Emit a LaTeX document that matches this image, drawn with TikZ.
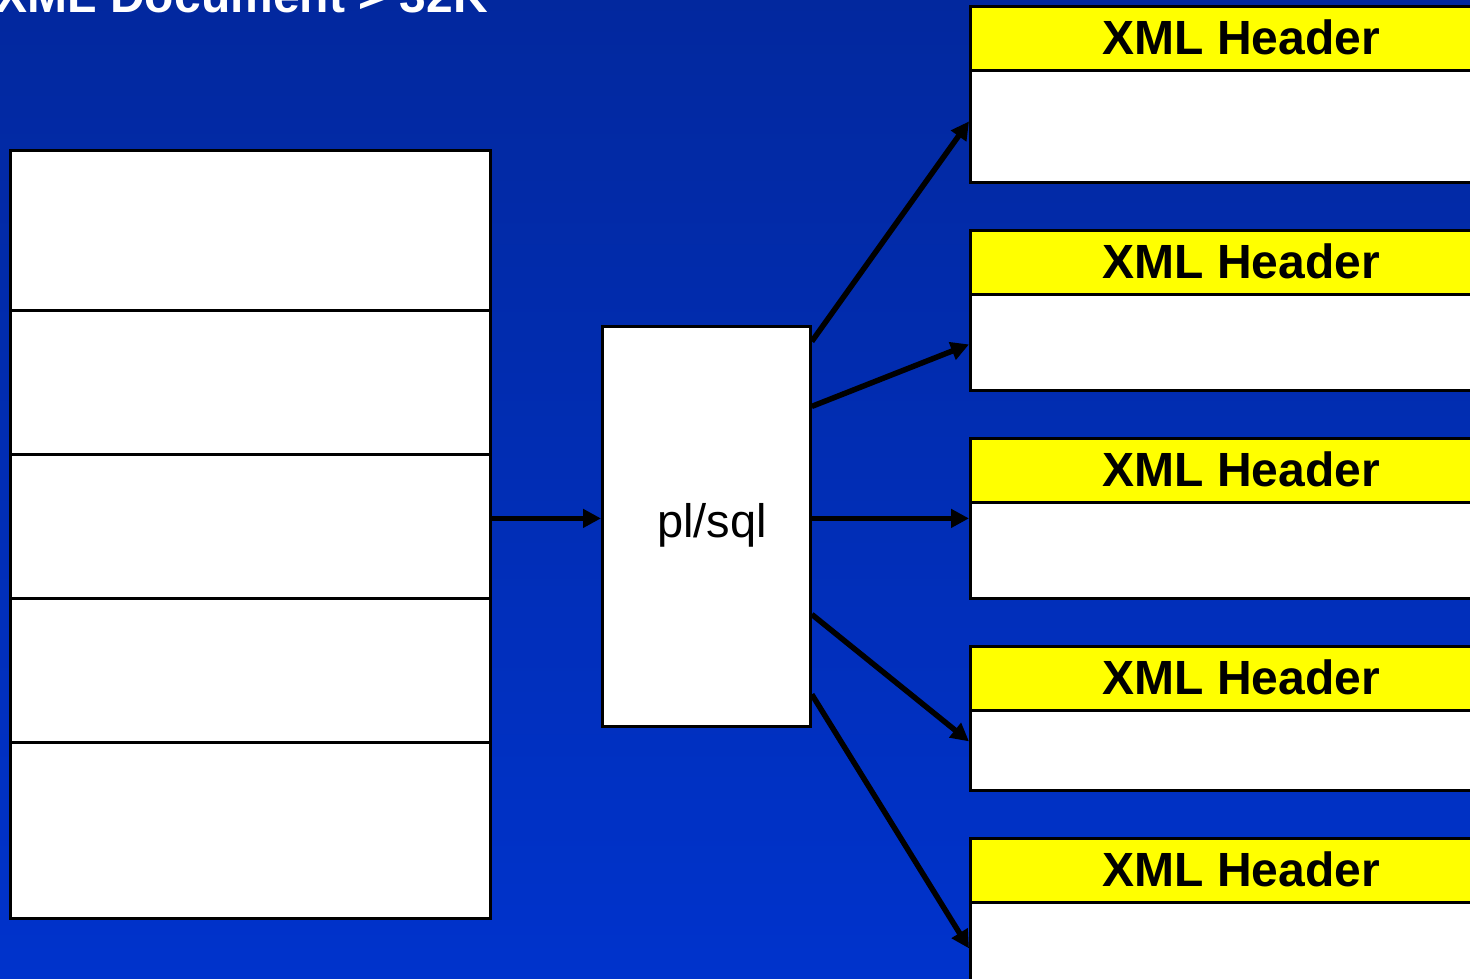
\documentclass[tikz,border=0pt]{standalone}
\usepackage{fontspec}
\setmainfont{Liberation Sans}
\usetikzlibrary{arrows.meta}
\definecolor{bgtop}{RGB}{2,40,158}
\definecolor{bgbot}{RGB}{0,51,204}
\definecolor{hdryellow}{RGB}{255,255,0}
\begin{document}
\begin{tikzpicture}[x=1pt,y=-1pt,
  cell/.style={draw=black,line width=2.8pt,fill=white,inner sep=0pt,anchor=north west,minimum width=480pt},
  hdr/.style={draw=black,line width=2.8pt,fill=hdryellow,inner sep=0pt,anchor=north west,minimum width=542pt,minimum height=64pt,
    font=\fontsize{48}{50}\selectfont\bfseries,text depth=0pt,text height=33pt},
  body/.style={draw=black,line width=2.8pt,fill=white,inner sep=0pt,anchor=north west,minimum width=542pt},
  conn/.style={line width=5.5pt,-{Triangle[length=18pt,width=18pt]}}
]
\useasboundingbox (0,0) rectangle (1470,979);
\clip (0,0) rectangle (1470,979);
\shade[top color=bgtop,bottom color=bgbot] (0,0) rectangle (1470,979);

% title
\node[anchor=base east,inner sep=0pt,text=white,font=\fontsize{48}{50}\selectfont\bfseries] (title) at (488,13) {XML Document > 32K};

% left document rows
\node[cell,minimum height=160pt] (r1) at (9,149) {};
\node[cell,minimum height=144pt] (r2) at (9,309) {};
\node[cell,minimum height=144pt] (r3) at (9,453) {};
\node[cell,minimum height=144pt] (r4) at (9,597) {};
\node[cell,minimum height=176pt] (r5) at (9,741) {};

% pl/sql box
\node[cell,minimum width=208pt,minimum height=400pt] (pls) at (601,325) {};
\node[inner sep=0pt,font=\fontsize{47}{50}\selectfont] (plstext) at (712,525) {pl/sql};

% right boxes
\node[hdr] (h1) at (969,5) {XML Header};
\node[body,minimum height=112pt] (b1) at (969,69) {};
\node[hdr] (h2) at (969,229) {XML Header};
\node[body,minimum height=96pt] (b2) at (969,293) {};
\node[hdr] (h3) at (969,437) {XML Header};
\node[body,minimum height=96pt] (b3) at (969,501) {};
\node[hdr] (h4) at (969,645) {XML Header};
\node[body,minimum height=80pt] (b4) at (969,709) {};
\node[hdr] (h5) at (969,837) {XML Header};
\node[body,minimum height=130pt] (b5) at (969,901) {};

% connectors
\draw[conn] ([yshift=8pt]r3.east) -- ([yshift=8pt]pls.west);
\draw[conn] ([yshift=185pt]pls.east) -- ([yshift=5pt]b1.west);
\draw[conn] ([yshift=120pt]pls.east) -- ([yshift=-2pt]b2.west);
\draw[conn] ([yshift=8pt]pls.east) -- ([yshift=32pt]b3.west);
\draw[conn] ([yshift=-88pt]pls.east) -- ([yshift=9pt]b4.west);
\draw[conn] ([yshift=-168pt]pls.east) -- ([yshift=19pt]b5.west);
\end{tikzpicture}
\end{document}
